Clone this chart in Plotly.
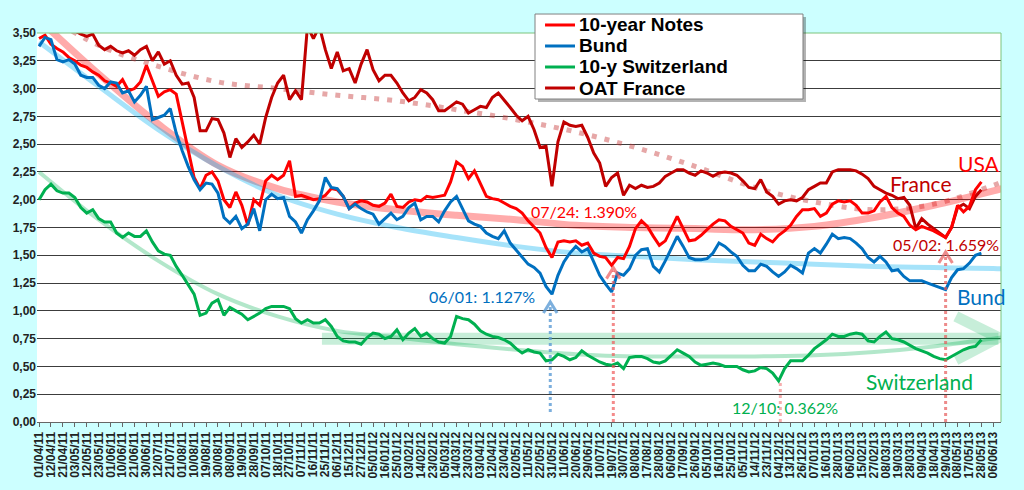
import plotly.graph_objects as go

# tick labels of the date axis (one every 7 trading days)
date_labels = [
    "01/04/11", "12/04/11", "21/04/11", "03/05/11", "12/05/11", "23/05/11", "01/06/11", "10/06/11",
    "21/06/11", "30/06/11", "12/07/11", "21/07/11", "01/08/11", "10/08/11", "19/08/11", "30/08/11",
    "08/09/11", "19/09/11", "28/09/11", "07/10/11", "18/10/11", "27/10/11", "07/11/11", "16/11/11",
    "25/11/11", "06/12/11", "15/12/11", "27/12/11", "05/01/12", "16/01/12", "25/01/12", "03/02/12",
    "14/02/12", "23/02/12", "05/03/12", "14/03/12", "23/03/12", "03/04/12", "12/04/12", "23/04/12",
    "02/05/12", "11/05/12", "22/05/12", "31/05/12", "11/06/12", "20/06/12", "29/06/12", "10/07/12",
    "19/07/12", "30/07/12", "08/08/12", "17/08/12", "28/08/12", "06/09/12", "17/09/12", "26/09/12",
    "05/10/12", "16/10/12", "25/10/12", "05/11/12", "14/11/12", "23/11/12", "04/12/12", "13/12/12",
    "26/12/12", "07/01/13", "16/01/13", "28/01/13", "06/02/13", "15/02/13", "27/02/13", "08/03/13",
    "19/03/13", "28/03/13", "09/04/13", "18/04/13", "29/04/13", "08/05/13", "17/05/13", "28/05/13",
    "06/06/13",
]
DAYS_PER_LABEL = 7
SAMPLE_STEP = 3.5   # yields read every 3.5 trading days

usa = [
    3.45, 3.48, 3.40, 3.36, 3.33, 3.28, 3.25, 3.21, 3.19, 3.15,
    3.12, 3.07, 3.05, 3.02, 3.08, 2.98, 3.00, 3.06, 3.21, 3.07,
    2.93, 2.97, 2.99, 2.95, 2.70, 2.42, 2.20, 2.10, 2.22, 2.25,
    2.17, 2.00, 1.93, 2.07, 1.95, 1.77, 2.00, 1.95, 2.17, 2.22,
    2.18, 2.22, 2.35, 2.03, 2.04, 2.02, 2.00, 2.01, 2.04, 2.10,
    2.09, 2.03, 1.92, 1.97, 1.99, 1.98, 1.95, 1.94, 1.97, 2.05,
    1.94, 1.93, 1.98, 2.00, 1.99, 2.03, 2.02, 2.03, 2.04, 2.16,
    2.34, 2.30, 2.19, 2.26, 2.15, 2.03, 2.01, 2.00, 1.97, 1.94,
    1.92, 1.88, 1.81, 1.75, 1.70, 1.57, 1.48, 1.62, 1.63, 1.62,
    1.63, 1.59, 1.61, 1.52, 1.49, 1.48, 1.41, 1.48, 1.47, 1.58,
    1.74, 1.81, 1.76, 1.67, 1.59, 1.63, 1.74, 1.85, 1.74, 1.63,
    1.64, 1.68, 1.73, 1.78, 1.82, 1.81, 1.76, 1.73, 1.70, 1.61,
    1.59, 1.69, 1.65, 1.62, 1.68, 1.72, 1.77, 1.85, 1.91, 1.91,
    1.92, 1.85, 1.88, 1.96, 1.99, 1.98, 1.99, 1.95, 1.88, 1.88,
    1.90, 1.98, 2.03, 1.93, 1.88, 1.85, 1.77, 1.73, 1.76, 1.74,
    1.72, 1.69, 1.66, 1.75, 1.95, 1.89, 1.94, 2.09, 2.16,
]
bund = [
    3.38, 3.46, 3.44, 3.26, 3.24, 3.26, 3.22, 3.12, 3.10, 3.10,
    3.03, 3.00, 3.06, 3.05, 2.96, 2.98, 2.88, 2.94, 3.02, 2.72,
    2.74, 2.76, 2.82, 2.60, 2.44, 2.30, 2.18, 2.09, 2.15, 2.14,
    2.06, 1.84, 1.79, 1.85, 1.74, 1.78, 1.92, 1.72, 2.00, 2.05,
    2.01, 2.02, 1.85, 1.80, 1.70, 1.82, 1.90, 1.99, 2.20, 2.11,
    2.10, 2.03, 1.92, 1.96, 1.92, 1.89, 1.87, 1.78, 1.83, 1.88,
    1.82, 1.85, 1.93, 1.97, 1.82, 1.85, 1.85, 1.80, 1.90, 1.98,
    2.03, 1.92, 1.81, 1.78, 1.76, 1.70, 1.67, 1.65, 1.72, 1.61,
    1.55, 1.49, 1.42, 1.39, 1.34, 1.22, 1.15, 1.32, 1.44, 1.52,
    1.58, 1.53, 1.56, 1.44, 1.32, 1.24, 1.17, 1.34, 1.32, 1.38,
    1.50, 1.55, 1.56, 1.40, 1.35, 1.45, 1.56, 1.67, 1.58, 1.48,
    1.46, 1.46, 1.47, 1.52, 1.61, 1.58, 1.53, 1.49, 1.41, 1.36,
    1.36, 1.42, 1.40, 1.35, 1.31, 1.35, 1.41, 1.38, 1.34, 1.52,
    1.56, 1.52, 1.60, 1.69, 1.65, 1.66, 1.65, 1.61, 1.56, 1.48,
    1.44, 1.49, 1.44, 1.36, 1.37, 1.31, 1.27, 1.27, 1.27, 1.25,
    1.23, 1.21, 1.19, 1.30, 1.37, 1.38, 1.43, 1.50, 1.52,
]
swiss = [
    2.00, 2.09, 2.14, 2.08, 2.06, 2.06, 2.02, 1.93, 1.88, 1.91,
    1.83, 1.80, 1.80, 1.70, 1.66, 1.70, 1.67, 1.67, 1.72, 1.62,
    1.54, 1.51, 1.50, 1.40, 1.32, 1.24, 1.15, 0.96, 0.98, 1.07,
    1.10, 0.96, 1.03, 1.00, 0.97, 0.92, 0.95, 0.98, 1.02, 1.04,
    1.04, 1.04, 1.02, 0.93, 0.89, 0.92, 0.89, 0.89, 0.92, 0.86,
    0.77, 0.73, 0.72, 0.72, 0.70, 0.76, 0.80, 0.79, 0.75, 0.77,
    0.83, 0.74, 0.80, 0.84, 0.77, 0.80, 0.75, 0.72, 0.71, 0.77,
    0.95, 0.93, 0.92, 0.88, 0.82, 0.79, 0.77, 0.76, 0.74, 0.71,
    0.66, 0.62, 0.65, 0.63, 0.62, 0.55, 0.56, 0.61, 0.59, 0.56,
    0.58, 0.64, 0.60, 0.57, 0.54, 0.52, 0.51, 0.53, 0.48, 0.58,
    0.59, 0.59, 0.57, 0.54, 0.53, 0.55, 0.60, 0.65, 0.62, 0.59,
    0.54, 0.51, 0.52, 0.53, 0.52, 0.50, 0.50, 0.50, 0.47, 0.45,
    0.46, 0.49, 0.48, 0.44, 0.37, 0.48, 0.55, 0.55, 0.55, 0.60,
    0.66, 0.70, 0.74, 0.79, 0.77, 0.77, 0.79, 0.80, 0.79, 0.73,
    0.72, 0.77, 0.81, 0.75, 0.74, 0.72, 0.69, 0.66, 0.64, 0.62,
    0.59, 0.57, 0.56, 0.59, 0.62, 0.65, 0.67, 0.68, 0.74,
]
oat = [
    3.62, 3.60, 3.60, 3.57, 3.56, 3.54, 3.52, 3.49, 3.47, 3.49,
    3.39, 3.35, 3.38, 3.34, 3.32, 3.34, 3.30, 3.35, 3.38, 3.25,
    3.33, 3.22, 3.25, 3.12, 3.04, 3.05, 2.92, 2.62, 2.62, 2.73,
    2.72, 2.60, 2.38, 2.55, 2.47, 2.52, 2.58, 2.50, 2.74, 2.92,
    3.05, 3.12, 2.90, 2.98, 2.90, 3.56, 3.45, 3.56, 3.35, 3.18,
    3.33, 3.16, 3.18, 3.05, 3.22, 3.35, 3.17, 3.07, 3.12, 3.12,
    3.05, 2.96, 2.89, 2.92, 2.99, 2.96, 2.90, 2.80, 2.80, 2.84,
    2.88, 2.86, 2.78, 2.81, 2.84, 2.83, 2.92, 2.96, 2.90, 2.83,
    2.76, 2.71, 2.75, 2.63, 2.47, 2.48, 2.12, 2.52, 2.70, 2.67,
    2.66, 2.67, 2.56, 2.42, 2.33, 2.12, 2.20, 2.24, 2.04, 2.13,
    2.10, 2.13, 2.11, 2.12, 2.15, 2.21, 2.24, 2.27, 2.27, 2.24,
    2.22, 2.26, 2.24, 2.21, 2.24, 2.25, 2.24, 2.22, 2.17, 2.11,
    2.10, 2.18, 2.07, 2.03, 1.96, 1.99, 2.00, 1.99, 2.02, 2.09,
    2.12, 2.15, 2.15, 2.25, 2.27, 2.27, 2.27, 2.26, 2.23, 2.19,
    2.12, 2.09, 2.06, 2.04, 2.01, 2.02, 1.95, 1.74, 1.83, 1.78,
    1.74, 1.70, 1.66, 1.75, 1.93, 1.96, 1.92, 2.03, 2.09,
]

# trend curves, read every 35 trading days plus the right edge
trend_days = [0, 35, 70, 105, 140, 175, 210, 245, 280, 315, 350, 385, 420, 455, 490, 525, 560, 565]
usa_trend = [3.62, 3.13, 2.68, 2.31, 2.10, 1.98, 1.91, 1.86, 1.82, 1.77, 1.75, 1.74, 1.73, 1.76, 1.84, 1.95, 2.08, 2.10]
bund_trend = [3.42, 3.02, 2.63, 2.30, 2.04, 1.87, 1.75, 1.66, 1.58, 1.52, 1.49, 1.46, 1.44, 1.42, 1.40, 1.39, 1.38, 1.38]
swiss_trend = [2.25, 1.82, 1.45, 1.15, 0.95, 0.82, 0.76, 0.70, 0.65, 0.61, 0.59, 0.59, 0.59, 0.60, 0.63, 0.68, 0.75, 0.76]
oat_trend = [3.70, 3.39, 3.20, 3.06, 3.00, 2.94, 2.89, 2.81, 2.72, 2.61, 2.47, 2.30, 2.11, 1.98, 1.91, 1.96, 2.13, 2.16]

# lows pointed at by the dotted arrows: (trading day, label, value, colour)
lows = [
    (300, "06/01: 1.127%", 1.08, "#0070C0"),
    (337, "07/24: 1.390%", 1.39, "#FF0000"),
    (435, "12/10: 0.362%", 0.38, "#00B050"),
    (532, "05/02: 1.659%", 1.53, "#C00000"),
]

series_names = ["10-year Notes", "Bund", "10-y Switzerland", "OAT France"]
series_colors = ["#FF0000", "#0070C0", "#00B050", "#C00000"]

days = [i * SAMPLE_STEP for i in range(len(usa))]
tick_days = [k * DAYS_PER_LABEL for k in range(len(date_labels))]

fig = go.Figure()

# sideways channel for the Swiss yield (big pale arrow)
fig.add_trace(go.Scatter(x=[166, 563], y=[0.75, 0.75], mode="lines", hoverinfo="skip",
                         line=dict(color="rgba(0,176,80,0.22)", width=12)))
fig.add_trace(go.Scatter(x=[538, 563, 538], y=[0.95, 0.76, 0.56], mode="lines", hoverinfo="skip",
                         line=dict(color="rgba(0,176,80,0.22)", width=11)))

# trend lines
fig.add_trace(go.Scatter(x=trend_days, y=oat_trend, mode="lines", line_shape="spline", hoverinfo="skip",
                         line=dict(color="rgba(200,60,60,0.45)", width=5, dash="5px,8px")))
fig.add_trace(go.Scatter(x=trend_days, y=usa_trend, mode="lines", line_shape="spline", hoverinfo="skip",
                         line=dict(color="rgba(255,0,0,0.33)", width=7)))
fig.add_trace(go.Scatter(x=trend_days, y=bund_trend, mode="lines", line_shape="spline", hoverinfo="skip",
                         line=dict(color="rgba(0,175,240,0.35)", width=5)))
fig.add_trace(go.Scatter(x=trend_days, y=swiss_trend, mode="lines", line_shape="spline", hoverinfo="skip",
                         line=dict(color="rgba(0,176,80,0.3)", width=4)))

# yields (France drawn first so the others sit on top)
for name, vals in [("OAT France", oat), ("10-year Notes", usa), ("Bund", bund), ("10-y Switzerland", swiss)]:
    col = series_colors[series_names.index(name)]
    fig.add_trace(go.Scatter(x=days, y=vals, mode="lines", name=name, line=dict(color=col, width=3)))

# dotted arrows towards the lows
arrow_cols = ["rgba(91,155,213,0.8)", "rgba(240,90,90,0.7)", "rgba(240,120,120,0.6)", "rgba(230,90,90,0.7)"]
for (d, _, tip, _), col in zip(lows, arrow_cols):
    base = 0.09 if d == 300 else 0
    fig.add_shape(type="line", x0=d, x1=d, y0=base, y1=tip - 0.03, line=dict(color=col, width=3, dash="dot"))
    if d != 435:
        fig.add_shape(type="path", path=f"M {d-4},{tip-0.1} L {d},{tip} L {d+4},{tip-0.1}",
                      line=dict(color=col, width=3))

label_pos = [(260, 1.125), (320, 1.89), (438, 0.135), (532, 1.595)]
for (d, txt, _, col), (lx, ly) in zip(lows, label_pos):
    fig.add_annotation(x=lx, y=ly, text=txt, showarrow=False, font=dict(family="Lato", size=16, color=col))

for txt, lx, ly, col in [("USA", 551.5, 2.33, "#FF0000"), ("France", 517.5, 2.15, "#C00000"),
                         ("Bund", 553, 1.125, "#0070C0"), ("Switzerland", 516.5, 0.36, "#00B050")]:
    fig.add_annotation(x=lx, y=ly, text=txt, showarrow=False, font=dict(family="Lato", size=21, color=col))

# green frame on top and right side of the plot
fig.add_shape(type="line", xref="paper", yref="paper", x0=0, x1=1, y0=1, y1=1, line=dict(color="#7CC47C", width=1))
fig.add_shape(type="line", xref="paper", yref="paper", x0=1, x1=1, y0=0, y1=1, line=dict(color="#7CC47C", width=1))

# legend box drawn by hand (Excel-style tight rows)
fig.add_shape(type="rect", xref="paper", yref="paper", x0=0.5197, x1=0.7977, y0=0.8226, y1=1.0411,
              line=dict(width=0), fillcolor="rgba(0,0,0,0.3)")
fig.add_shape(type="rect", xref="paper", yref="paper", x0=0.5166, x1=0.7946, y0=0.8303, y1=1.0488,
              line=dict(color="#808080", width=1), fillcolor="white")
row_y = [1.0206, 0.9666, 0.9126, 0.8586]
for name, col, ry in zip(series_names, series_colors, row_y):
    fig.add_shape(type="line", xref="paper", yref="paper", x0=0.5270, x1=0.5581, y0=ry, y1=ry,
                  line=dict(color=col, width=3))
    fig.add_annotation(xref="paper", yref="paper", x=0.5605, y=ry, text=name, showarrow=False,
                       xanchor="left", yanchor="middle",
                       font=dict(family="Liberation Sans, Arial", size=19, color="black", weight="bold"))

axis_font = dict(family="Liberation Sans, Arial", size=12, color="#222", weight="bold")
fig.update_xaxes(range=[-1.2, 564.5], tickmode="array", tickvals=tick_days, ticktext=date_labels, tickangle=-90,
                 tickfont=axis_font, ticks="outside", ticklen=4, tickcolor="#666",
                 showline=True, linecolor="#666", showgrid=False, zeroline=False)
fig.update_yaxes(range=[0, 3.5], dtick=0.25, tickformat=".2f", tickfont=axis_font,
                 showgrid=True, gridcolor="#3c3c3c", gridwidth=1, zeroline=False, showline=False)

fig.update_layout(
    width=1024, height=490,
    paper_bgcolor="#CCFFFF", plot_bgcolor="white",
    margin=dict(l=37, r=23, t=33, b=68),
    separators=",.",
    showlegend=False,
)

fig.write_html("out.html", config={"displayModeBar": False},
               post_script="document.body.style.margin='0';")
